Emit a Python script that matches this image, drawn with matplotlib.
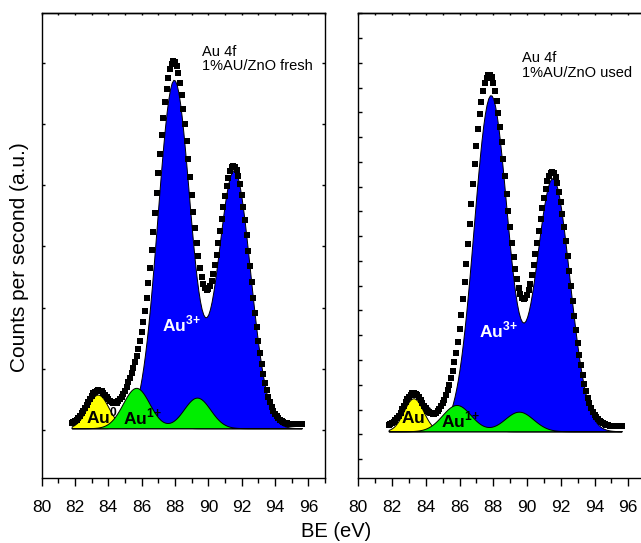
import numpy as np
import matplotlib
matplotlib.use('Agg')
import matplotlib.pyplot as plt
from matplotlib.ticker import MultipleLocator

plt.rcParams['font.family'] = ['Liberation Sans', 'DejaVu Sans']
plt.rcParams['mathtext.fontset'] = 'custom'
plt.rcParams['mathtext.rm'] = 'Liberation Sans'
plt.rcParams['mathtext.bf'] = 'Liberation Sans:bold'

# binding energy grid of the measured points (eV)
be = np.round(np.arange(81.8, 95.65, 0.1), 2)

# fitted Au 4f doublets: position (eV), height, FWHM (eV)
# --- fresh catalyst
fresh_base = 1.03
fresh_bg = 0.06
fresh_au0_pos = [83.37, 87.04]
fresh_au0_h = [0.55, 0.30]
fresh_au0_fwhm = [1.53, 1.53]
fresh_au1_pos = [85.67, 89.32]
fresh_au1_h = [0.66, 0.50]
fresh_au1_fwhm = [1.88, 1.88]
fresh_au3_pos = [87.93, 91.53]
fresh_au3_h = [5.69, 4.21]
fresh_au3_fwhm = [2.31, 2.31]

# --- used catalyst
used_base = 0.98
used_bg = 0.08
used_au0_pos = [83.27, 86.94]
used_au0_h = [0.54, 0.55]
used_au0_fwhm = [1.37, 1.37]
used_au1_pos = [85.82, 89.52]
used_au1_h = [0.43, 0.32]
used_au1_fwhm = [2.0, 2.0]
used_au3_pos = [87.84, 91.51]
used_au3_h = [5.49, 4.13]
used_au3_fwhm = [2.36, 2.36]

titles = ['Au 4f\n1%AU/ZnO fresh', 'Au 4f\n1%AU/ZnO used']


def doublet(x, pos, h, fwhm):
    y = np.zeros_like(x)
    for p, a, w in zip(pos, h, fwhm):
        y += a * np.exp(-4 * np.log(2) * (x - p) ** 2 / w ** 2)
    return y


def draw_panel(ax, base, bg, au0, au1, au3):
    y0 = doublet(be, *au0)
    y1 = doublet(be, *au1)
    y3 = doublet(be, *au3)

    # components filled from the baseline, green sits on top of blue
    ax.fill_between(be, base, base + y0, facecolor='#ffff00', edgecolor='black', lw=0.7, zorder=1)
    ax.fill_between(be, base, base + y3, facecolor='#0000ff', edgecolor='black', lw=0.7, zorder=2)
    ax.fill_between(be, base, base + y1, facecolor='#00ee00', edgecolor='black', lw=0.7, zorder=3)

    # envelope / measured points
    env = base + bg + y0 + y1 + y3
    ax.plot(be, env, 's', color='black', ms=4, mew=0, zorder=4)

    ax.set_xlim(80, 97)
    ax.set_ylim(0.216, 7.82)
    ax.xaxis.set_major_locator(MultipleLocator(2))
    ax.xaxis.set_minor_locator(MultipleLocator(1))
    ax.tick_params(axis='x', which='major', direction='out', length=6, width=1, labelsize=12.5, pad=9.5)
    ax.tick_params(axis='x', which='minor', direction='out', length=3.5, width=1)
    ax.tick_params(axis='y', which='both', direction='in', length=2.4, width=1,
                   left=True, right=True, labelleft=False)
    for s in ax.spines.values():
        s.set_linewidth(1.0)

    top = ax.secondary_xaxis('top')
    top.xaxis.set_major_locator(MultipleLocator(1))
    top.tick_params(direction='in', length=1.5, width=1, labeltop=False)
    top.spines['top'].set_linewidth(1.0)


fig = plt.figure(figsize=(6.41, 5.43), dpi=100)
ax1 = fig.add_axes([0.065, 0.1197, 0.442, 0.857])
ax2 = fig.add_axes([0.559, 0.1197, 0.4475, 0.857])

draw_panel(ax1, fresh_base, fresh_bg,
           (fresh_au0_pos, fresh_au0_h, fresh_au0_fwhm),
           (fresh_au1_pos, fresh_au1_h, fresh_au1_fwhm),
           (fresh_au3_pos, fresh_au3_h, fresh_au3_fwhm))
draw_panel(ax2, used_base, used_bg,
           (used_au0_pos, used_au0_h, used_au0_fwhm),
           (used_au1_pos, used_au1_h, used_au1_fwhm),
           (used_au3_pos, used_au3_h, used_au3_fwhm))

ax1.yaxis.set_major_locator(MultipleLocator(1))
ax2.yaxis.set_major_locator(MultipleLocator(0.4047, offset=0.121))
ax2.tick_params(axis='y', length=3, right=False)
# right panel is cut by the image edge in the original
ax2.spines['right'].set_visible(False)

# species labels
lab = dict(fontsize=12.5, fontweight='bold', zorder=5)
ax1.text(82.65, 1.11, 'Au$^{\\mathbf{0}}$', color='black', **lab)
ax1.text(84.89, 1.10, 'Au$^{\\mathbf{1{+}}}$', color='black', **lab)
ax1.text(87.25, 2.61, 'Au$^{\\mathbf{3{+}}}$', color='white', **lab)
ax2.text(82.52, 1.11, 'Au$^{\\mathbf{0}}$', color='black', **lab)
ax2.text(84.90, 1.04, 'Au$^{\\mathbf{1{+}}}$', color='black', **lab)
ax2.text(87.18, 2.52, 'Au$^{\\mathbf{3{+}}}$', color='white', **lab)

ax1.text(89.64, 7.06, titles[0], fontsize=10.5, va='center', linespacing=1.05)
ax2.text(89.73, 6.96, titles[1], fontsize=10.5, va='center', linespacing=1.05)

fig.text(0.031, 0.526, 'Counts per second (a.u.)', rotation=90, fontsize=15,
         ha='center', va='center')
fig.text(0.524, 0.022, 'BE (eV)', fontsize=14.5, ha='center', va='center')

fig.savefig('out.png', dpi=100)
